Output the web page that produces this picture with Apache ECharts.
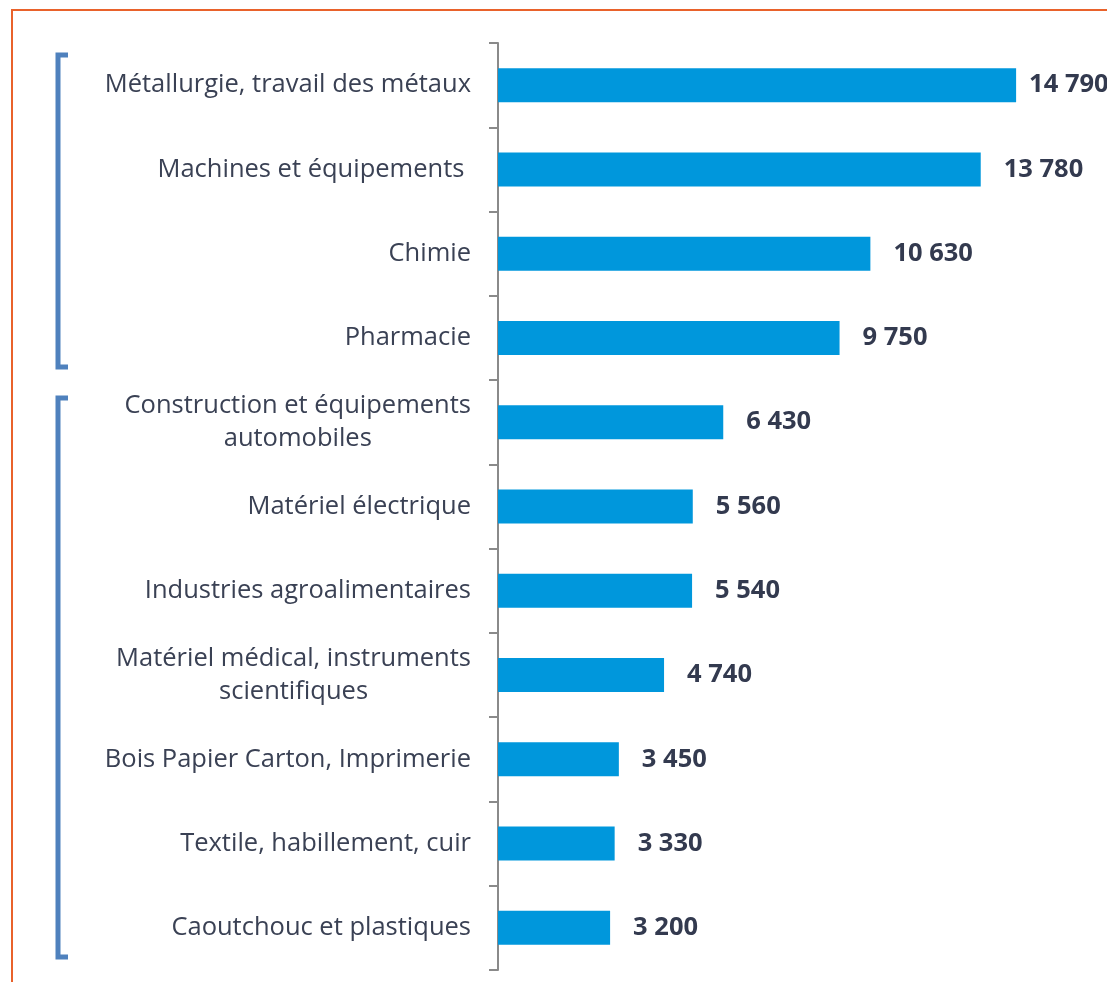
<!DOCTYPE html>
<html>
<head>
<meta charset="utf-8">
<script src="https://cdn.jsdelivr.net/npm/echarts@6/dist/echarts.min.js"></script>
<style>
  html, body { margin: 0; padding: 0; background: #fff; }
  #chart { width: 1107px; height: 982px; }
</style>
</head>
<body>
<div id="chart"></div>
<script>
// secteurs (du haut vers le bas)
const categories = [
  "Métallurgie, travail des métaux",
  "Machines et équipements ",
  "Chimie",
  "Pharmacie",
  "Construction et équipements\nautomobiles",
  "Matériel électrique",
  "Industries agroalimentaires",
  "Matériel médical, instruments\nscientifiques",
  "Bois Papier Carton, Imprimerie",
  "Textile, habillement, cuir",
  "Caoutchouc et plastiques",
];
const values = [14790, 13780, 10630, 9750, 6430, 5560, 5540, 4740, 3450, 3330, 3200];

const blue = "#0097dc";
const bracket = "#4f81bd";
const font = "Open Sans";
const fontSize = 25.5;

const chart = echarts.init(document.getElementById("chart"));

// la première étiquette est resserrée pour tenir dans le cadre
const barData = values.map((v, i) =>
  i === 0 ? { value: v, label: { distance: 13 } } : v
);

const option = {
  animation: false,
  grid: {
    left: 498,
    top: 43,
    height: 927,
    width: 560.5,
  },
  xAxis: {
    type: "value",
    min: 0,
    max: 16000,
    show: false,
  },
  yAxis: {
    type: "category",
    data: categories,
    inverse: true,
    axisLine: {
      show: true,
      lineStyle: { color: "#8a8a8a", width: 2 },
    },
    axisTick: {
      show: true,
      length: 9,
      lineStyle: { color: "#8a8a8a", width: 2 },
    },
    axisLabel: {
      margin: 27,
      fontFamily: font,
      fontSize: fontSize,
      color: "#3a4154",
      lineHeight: 33,
      // lignes centrées entre elles, bloc aligné à droite
      formatter: (v) => v.split("\n").map((s) => `{c|${s}}`).join("\n"),
      rich: {
        c: {
          align: "center",
          fontFamily: font,
          fontSize: fontSize,
          color: "#3a4154",
          lineHeight: 33,
        },
      },
    },
  },
  series: [
    {
      type: "bar",
      data: barData,
      barWidth: 34,
      itemStyle: { color: blue },
      label: {
        show: true,
        position: "right",
        distance: 23,
        fontFamily: font,
        fontWeight: "bold",
        fontSize: fontSize,
        color: "#333a4f",
        formatter: (p) => p.value.toLocaleString("fr-FR").replace(/\s/g, " "),
      },
    },
  ],
  graphic: [
    {
      type: "rect",
      shape: { x: 12, y: 10, width: 1200, height: 1000 },
      style: { fill: "none", stroke: "#e9622b", lineWidth: 2 },
    },
    {
      type: "polyline",
      shape: { points: [[68, 55], [58, 55], [58, 367], [68, 367]] },
      style: { fill: "none", stroke: bracket, lineWidth: 5 },
    },
    {
      type: "polyline",
      shape: { points: [[68, 398], [58, 398], [58, 957], [68, 957]] },
      style: { fill: "none", stroke: bracket, lineWidth: 5 },
    },
  ],
};

chart.setOption(option);
</script>
</body>
</html>
